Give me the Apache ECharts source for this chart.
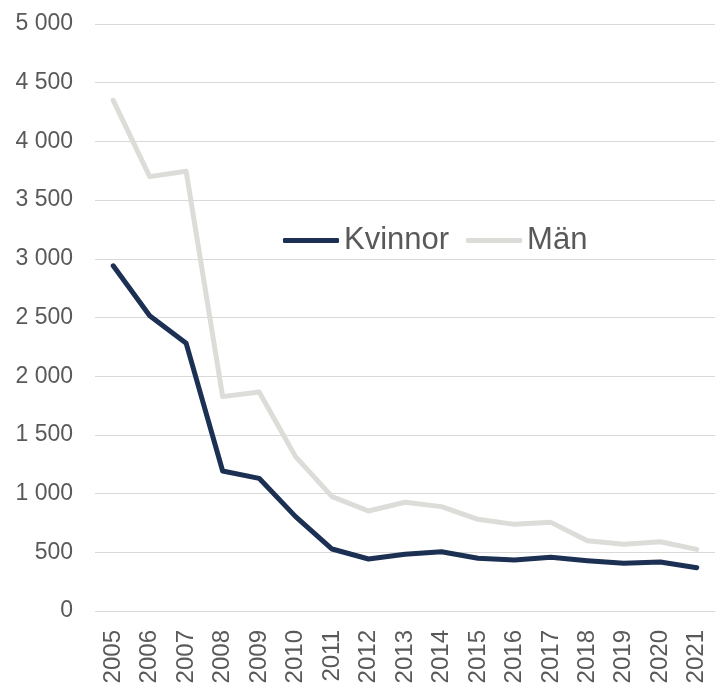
<!DOCTYPE html>
<html>
<head>
<meta charset="utf-8">
<script src="https://cdn.jsdelivr.net/npm/echarts@6/dist/echarts.min.js"></script>
<style>
html, body { margin: 0; padding: 0; background: #fff; }
#main { width: 715px; height: 691px; }
</style>
</head>
<body>
<div id="main"></div>
<script>
// årtal
var years = ['2005', '2006', '2007', '2008', '2009', '2010', '2011', '2012', '2013',
	'2014', '2015', '2016', '2017', '2018', '2019', '2020', '2021'];
// Kvinnor
var kvinnor = [2940, 2515, 2280, 1193, 1130, 804, 528, 443, 483, 505, 449, 434, 457, 429, 406, 417, 369];
// Män
var man = [4350, 3700, 3745, 1826, 1865, 1315, 974, 852, 926, 889, 781, 738, 755, 599, 568, 590, 525];

var font = '"Liberation Sans", Arial, sans-serif';

function fmt(v) {
	// tusentalsavgränsare med mellanslag
	return String(v).replace(/\B(?=(\d{3})+(?!\d))/g, ' ');
}

var option = {
	animation: false,
	backgroundColor: '#ffffff',
	legend: {
		data: ['Kvinnor', 'Män'],
		left: 278,
		top: 220,
		icon: 'roundRect',
		itemWidth: 56,
		itemHeight: 5,
		itemGap: 17,
		textStyle: { fontFamily: font, fontSize: 31, color: '#595959' }
	},
	grid: {
		left: 95,
		right: -5,
		top: 24,
		bottom: 80
	},
	xAxis: {
		type: 'category',
		data: years,
		boundaryGap: true,
		axisLine: { show: false },
		axisTick: { show: false },
		axisLabel: {
			rotate: 90,
			margin: 19,
			fontFamily: font,
			fontSize: 24,
			color: '#595959'
		}
	},
	yAxis: {
		type: 'value',
		min: 0,
		max: 5000,
		interval: 500,
		axisLine: { show: false },
		axisTick: { show: false },
		splitLine: { lineStyle: { color: '#d9d9d9', width: 1 } },
		axisLabel: {
			margin: 22,
			fontFamily: font,
			fontSize: 23,
			color: '#595959',
			formatter: fmt
		}
	},
	series: [
		{
			name: 'Kvinnor',
			type: 'line',
			data: kvinnor,
			showSymbol: false,
			symbol: 'none',
			z: 3,
			itemStyle: { color: '#1b3052' },
			lineStyle: { color: '#1b3052', width: 5, cap: 'round', join: 'round' }
		},
		{
			name: 'Män',
			type: 'line',
			data: man,
			showSymbol: false,
			symbol: 'none',
			z: 2,
			itemStyle: { color: '#dcdcd8' },
			lineStyle: { color: '#dcdcd8', width: 5, cap: 'round', join: 'round' }
		}
	]
};

var myChart = echarts.init(document.getElementById('main'));
myChart.setOption(option);
</script>
</body>
</html>
